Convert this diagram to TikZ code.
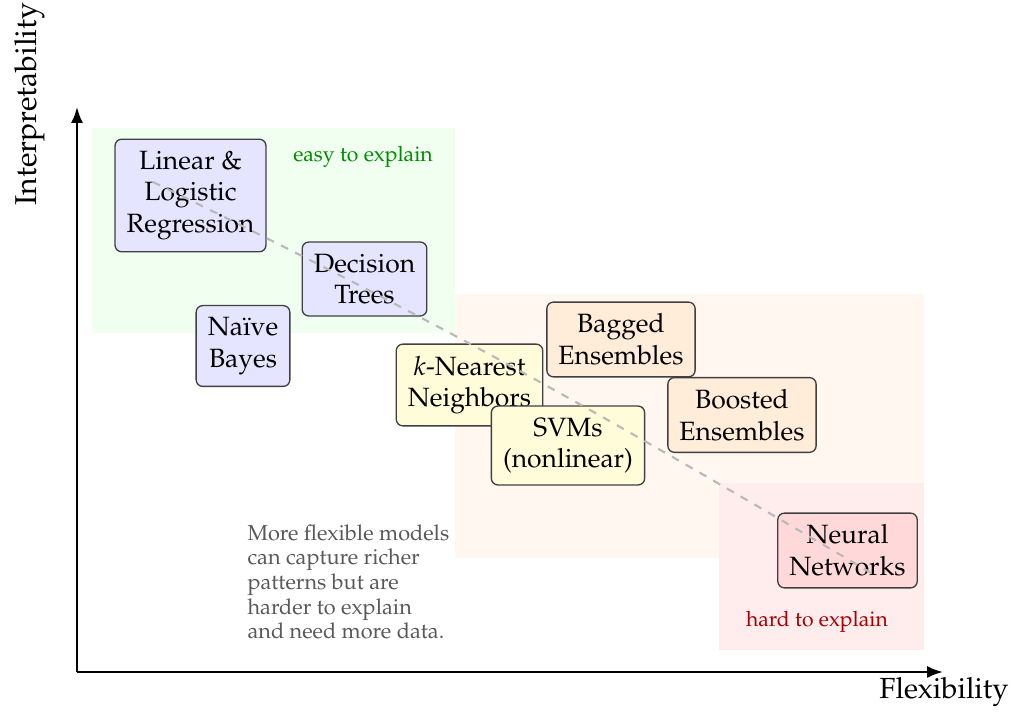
\documentclass[tikz,border=0pt]{standalone}
\usepackage[T1]{fontenc}
\usepackage{mathpazo}
\usetikzlibrary{arrows.meta}

\tikzset{
  model/.style={draw=black!75, line width=0.5pt, rounded corners=2.5pt,
    align=center, inner sep=4.4pt, font=\normalsize},
  interp/.style={model, fill=blue!10},
  midflex/.style={model, fill=yellow!15},
  ensemble/.style={model, fill=orange!15},
  deepnet/.style={model, fill=red!15},
  axisline/.style={line width=0.8pt, -{Latex[length=6pt,width=4.5pt]}},
  trend/.style={gray!55, dashed, line width=0.8pt},
  zonelabel/.style={font=\footnotesize},
}

\begin{document}
\begin{tikzpicture}[x=0.378pt, y=-0.378pt]
  \useasboundingbox (0,0) rectangle (1013,712);

  % shaded zones
  \fill[green!6]  (92,128)  rectangle (455,333);
  \fill[orange!6] (455,294) rectangle (924,558);
  \fill[red!7]    (719,483) rectangle (924,650);

  % axes
  \coordinate (origin) at (77,672);
  \coordinate (ytip) at (77,107);
  \coordinate (xtip) at (943,672);
  \draw[axisline] (origin) -- (ytip);
  \draw[axisline] (origin) -- (xtip);
  \node[rotate=90, font=\fontsize{11.4}{14}\selectfont] (ylab) at (29.5,104) {Interpretability};
  \node[font=\fontsize{11}{13}\selectfont] (xlab) at (944,692) {Flexibility};

  % zone labels
  \node[zonelabel, text=green!55!black] (easy) at (363,157) {easy to explain};
  \node[zonelabel, text=red!65!black] (hard) at (817,622) {hard to explain};

  % models
  \node[interp] (linreg) at (190.5,195.5) {Linear \&\\Logistic\\Regression};
  \node[interp] (dtree) at (364.5,279) {Decision\\Trees};
  \node[interp] (nbayes) at (243,346) {Na\"ive\\Bayes};
  \node[midflex] (knn) at (469.5,385) {$k$-Nearest\\Neighbors};
  \node[midflex] (svm) at (568,445.5) {SVMs\\(nonlinear)};
  \node[ensemble] (bagged) at (621,339.5) {Bagged\\Ensembles};
  \node[ensemble] (boosted) at (742,415) {Boosted\\Ensembles};
  \node[deepnet] (neural) at (847.5,550.5) {Neural\\Networks};

  % note
  \node[anchor=north west, align=left, inner sep=0pt,
        font=\fontsize{8.2}{9.3}\selectfont, text=black!65] (note) at (247,524)
    {More flexible models\\can capture richer\\patterns but are\\harder to explain\\and need more data.};

  % trade-off trend
  \coordinate (trendstart) at (153,182);
  \coordinate (trendend) at (873,574);
  \draw[trend] (trendstart) to[out=-26, in=149.5] (trendend);
\end{tikzpicture}
\end{document}
